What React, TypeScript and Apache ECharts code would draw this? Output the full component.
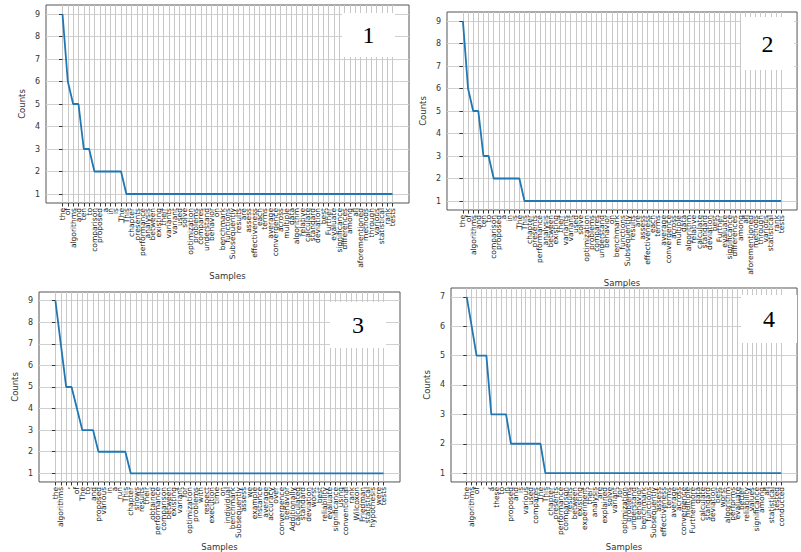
import React, { useEffect, useRef } from "react";
import * as echarts from "echarts";

// ---------- data ----------
const words1 = [
  "the", "of", "algorithms", "and", "ten", "to", "comparison", "proposed", "a", "in", "is", "The", "This",
  "chapter", "presents", "performance", "analysis", "between", "existing", "their", "variants", "variant",
  "used", "solve", "optimization", "problems", "compares", "understand", "behavior", "on", "benchmark",
  "functions", "Subsequently", "results", "are", "assess", "effectiveness", "each", "terms", "average",
  "convergence", "across", "multiple", "data", "algorithm", "relative", "calculate", "standard", "deviation",
  "best", "Further", "evaluate", "significance", "differences", "among", "all", "aforementioned", "methods",
  "through", "various", "statistical", "rank", "tests",
];
const counts1 = [
  9, 6, 5, 5, 3, 3, 2, 2, 2, 2, 2, 2,
  1, 1, 1, 1, 1, 1, 1, 1, 1, 1,
  1, 1, 1, 1, 1, 1, 1, 1, 1, 1,
  1, 1, 1, 1, 1, 1, 1, 1, 1, 1,
  1, 1, 1, 1, 1, 1, 1, 1, 1, 1,
  1, 1, 1, 1, 1, 1, 1, 1, 1, 1,
  1,
];
const words2 = words1;
const counts2 = counts1;

const words3 = [
  "the", "algorithms", ",", ".", "of", "The", "to", "and", "proposed", "various", "in", "a", "run", "This",
  "chapter", "shows", "results", "their", "obtained", "performance", "comparison", "between", "existing",
  "variant", "for", "optimization", "problems", "with", "respect", "execution", "time", "on", "individual",
  "benchmark", "Subsequently", "assess", "we", "example", "instance", "average", "accuracy", "over",
  "convergence", "behavior", "Additionally", "calculated", "standard", "deviation", "worst", "best",
  "reliability", "evaluate", "significance", "using", "conventional", "rank", "Wilcoxon", "Friedman",
  "statistical", "hypothesis", "were", "tests",
];
const counts3 = [
  9, 7, 5, 5, 4, 3, 3, 3, 2, 2, 2, 2, 2, 2,
  1, 1, 1, 1, 1, 1, 1, 1, 1, 1,
  1, 1, 1, 1, 1, 1, 1, 1, 1, 1,
  1, 1, 1, 1, 1, 1, 1, 1, 1, 1,
  1, 1, 1, 1, 1, 1, 1, 1, 1, 1,
  1, 1, 1, 1, 1, 1, 1, 1,
];

const words4 = [
  "the", "algorithms", "of", ".", ",", "a", "these", "to", "in", "proposed", "and", "is", "various", "used",
  "compares", "The", "This", "chapter", "presents", "performance", "comparison", "results", "between",
  "existing", "experiment", "their", "analysis", "are", "explained", "solve", "variant", "for",
  "optimization", "problems", "understand", "behavior", "benchmark", "functions", "Subsequently", "assess",
  "effectiveness", "terms", "average", "across", "convergence", "multiple", "Furthermore", "data",
  "calculate", "standard", "deviation", "best", "worst", "algorithm", "performs", "evaluate", "better",
  "reliability", "values", "significance", "among", "all", "statistical", "tested", "conducted",
];
const counts4 = [
  7, 6, 5, 5, 5, 3, 3, 3, 3, 2, 2, 2, 2, 2, 2, 2,
  1, 1, 1, 1, 1, 1, 1, 1, 1, 1,
  1, 1, 1, 1, 1, 1, 1, 1, 1, 1,
  1, 1, 1, 1, 1, 1, 1, 1, 1, 1,
  1, 1, 1, 1, 1, 1, 1, 1, 1, 1,
  1, 1, 1, 1, 1, 1, 1, 1, 1,
];

const yTicks9 = [1, 2, 3, 4, 5, 6, 7, 8, 9];
const yTicks7 = [1, 2, 3, 4, 5, 6, 7];
const panelLabels = ["1", "2", "3", "4"];

// ---------- layout ----------
const panels = [
  { words: words1, counts: counts1, yTicks: yTicks9, yMin: 0.6, yMax: 9.4,
    grid: { left: 46, top: 5, width: 363, height: 198 }, xGap: 67, yGap: 20,
    box: [342, 13, 53, 44] },
  { words: words2, counts: counts2, yTicks: yTicks9, yMin: 0.6, yMax: 9.4,
    grid: { left: 447, top: 12, width: 364, height: 198 }, xGap: 63, yGap: 20,
    box: [741, 17, 53, 53] },
  { words: words3, counts: counts3, yTicks: yTicks9, yMin: 0.6, yMax: 9.4,
    grid: { left: 39, top: 292, width: 361, height: 195 }, xGap: 56, yGap: 20,
    box: [330, 302, 56, 46] },
  { words: words4, counts: counts4, yTicks: yTicks7, yMin: 0.7, yMax: 7.3,
    grid: { left: 451, top: 288, width: 356, height: 194 }, xGap: 55, yGap: 20,
    box: [741, 295, 56, 48] },
];

const FONT = "DejaVu Sans";

export default function App() {
  const ref = useRef<HTMLDivElement>(null);
  useEffect(() => {
    if (!ref.current) return;
    const chart = echarts.init(ref.current, null, { renderer: "svg" });
    const grids: any[] = [];
    const xAxes: any[] = [];
    const yAxes: any[] = [];
    const series: any[] = [];
    const graphics: any[] = [];
    panels.forEach((p, k) => {
      const n = p.counts.length;
      const idx = p.counts.map((_, i) => i);
      const pad = (n - 1) * 0.05;
      // blank edge labels keep ECharts from hiding the first/last word labels
      const labelVals = [-pad + 0.01, ...idx, n - 1 + pad - 0.01];
      grids.push({
        ...p.grid,
        show: true,
        backgroundColor: "#ffffff",
        borderColor: "#555555",
        borderWidth: 1,
        containLabel: false,
      });
      xAxes.push({
        type: "value",
        gridIndex: k,
        min: -pad,
        max: n - 1 + pad,
        name: "Samples",
        nameLocation: "middle",
        nameGap: p.xGap,
        nameTextStyle: { fontFamily: FONT, fontSize: 8.5, color: "#333" },
        axisLine: { show: false },
        axisTick: { show: true, inside: false, length: 3.5, customValues: idx, lineStyle: { color: "#333", width: 1 } },
        axisLabel: {
          customValues: labelVals,
          showMinLabel: true,
          showMaxLabel: true,
          hideOverlap: false,
          rotate: 90,
          margin: 5,
          fontFamily: FONT,
          fontSize: 7.5,
          color: "#222",
          formatter: (v: number) => {
            const r = Math.round(v);
            return Math.abs(v - r) < 1e-6 && p.words[r] !== undefined ? p.words[r] : " ";
          },
        },
        splitLine: { show: true, lineStyle: { color: "#c8c8c8", width: 1 } },
      });
      yAxes.push({
        type: "value",
        gridIndex: k,
        min: p.yMin,
        max: p.yMax,
        name: "Counts",
        nameLocation: "middle",
        nameGap: p.yGap,
        nameTextStyle: { fontFamily: FONT, fontSize: 8.5, color: "#333" },
        axisLine: { show: false },
        axisTick: { show: true, inside: false, length: 3.5, customValues: p.yTicks, lineStyle: { color: "#333", width: 1 } },
        axisLabel: { customValues: p.yTicks, showMinLabel: true, showMaxLabel: true, margin: 6, fontFamily: FONT, fontSize: 8, color: "#333" },
        splitLine: { show: true, lineStyle: { color: "#d0d0d0", width: 1 } },
      });
      series.push({
        type: "line",
        xAxisIndex: k,
        yAxisIndex: k,
        data: p.counts.map((c, i) => [i, c]),
        showSymbol: false,
        symbol: "none",
        lineStyle: { color: "#1f77b4", width: 1.8 },
        z: 5,
      });
      const [bx, by, bw, bh] = p.box;
      graphics.push({
        type: "rect",
        shape: { x: bx, y: by, width: bw, height: bh },
        style: { fill: "#ffffff" },
        z: 100,
      });
      graphics.push({
        type: "text",
        x: bx + bw / 2,
        y: by + bh / 2,
        style: {
          text: panelLabels[k],
          fill: "#000",
          fontSize: 24,
          fontFamily: "Liberation Serif",
          align: "center",
          verticalAlign: "middle",
        },
        z: 101,
      });
    });
    chart.setOption({
      animation: false,
      backgroundColor: "#ffffff",
      grid: grids,
      xAxis: xAxes,
      yAxis: yAxes,
      series,
      graphic: graphics,
    });
    return () => chart.dispose();
  }, []);
  return (
    <div
      ref={ref}
      style={{ position: "absolute", left: 0, top: 0, width: "801px", height: "552px" }}
    />
  );
}
